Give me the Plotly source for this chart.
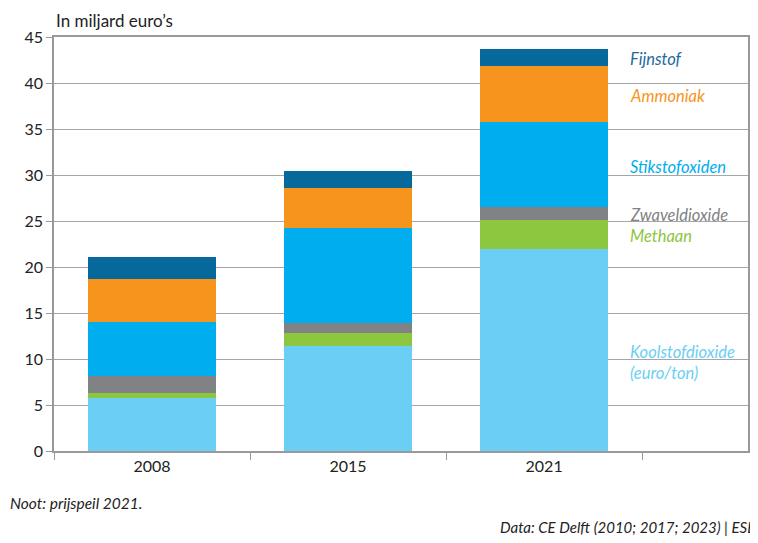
import plotly.graph_objects as go

years = ["2008", "2015", "2021"]
series_names = ["Koolstofdioxide", "Methaan", "Zwaveldioxide", "Stikstofoxiden", "Ammoniak", "Fijnstof"]
koolstofdioxide = [5.75, 11.4, 22.0]
methaan = [0.55, 1.4, 3.15]
zwaveldioxide = [1.8, 1.15, 1.35]
stikstofoxiden = [5.9, 10.3, 9.25]
ammoniak = [4.7, 4.3, 6.05]
fijnstof = [2.4, 1.9, 1.95]
label_texts = ["Koolstofdioxide<br>(euro/ton)", "Methaan", "Zwaveldioxide", "Stikstofoxiden", "Ammoniak", "Fijnstof"]

values = [koolstofdioxide, methaan, zwaveldioxide, stikstofoxiden, ammoniak, fijnstof]
colors = ["#6ACEF5", "#8DC63F", "#808285", "#00AEEF", "#F7941D", "#07699B"]
label_colors = ["#6ACEF5", "#8DC63F", "#808285", "#00AEEF", "#F7941D", "#1C6AA0"]

# page offset (browser body margin) compensation
OFF = 8
W, H = 758 - OFF, 543 - OFF
ml, mr, mt, mb = 54 - OFF, 10, 37 - OFF, 92
pw, ph = W - ml - mr, H - mt - mb


def px_to_paper(px, py):
    return (px - OFF - ml) / pw, 1 - (py - OFF - mt) / ph


fig = go.Figure()
for name, vals, col in zip(series_names, values, colors):
    fig.add_trace(go.Bar(x=years, y=vals, name=name, marker=dict(color=col, line=dict(width=0)),
                         width=0.65, hoverinfo="x+y+name"))

# labels next to the last bar, at segment midpoints (first line on the midpoint)
cum = 0
last = len(years) - 1
for txt, vals, col in zip(label_texts, values, label_colors):
    mid = cum + vals[last] / 2
    cum += vals[last]
    nlines = txt.count("<br>") + 1
    fig.add_annotation(x=last + 0.43, y=mid, xref="x", yref="y", text=txt, showarrow=False,
                       xanchor="left", yanchor="middle", align="left",
                       yshift=-(nlines - 1) * 11 - 2,
                       font=dict(family="Lato", size=16.5, color=col, style="italic"))

tx, ty = px_to_paper(54, 20)
fig.add_annotation(x=tx, y=ty, xref="paper", yref="paper", text="In miljard euro’s", showarrow=False,
                   xanchor="left", yanchor="middle", font=dict(family="Lato", size=17, color="#222"))
nx, ny = px_to_paper(8, 503)
fig.add_annotation(x=nx, y=ny, xref="paper", yref="paper", text="Noot: prijspeil 2021.", showarrow=False,
                   xanchor="left", yanchor="middle",
                   font=dict(family="Lato", size=15.5, color="#222", style="italic"))
dx, dy = px_to_paper(498, 527)
fig.add_annotation(x=dx, y=dy, xref="paper", yref="paper", text="Data: CE Delft (2010; 2017; 2023) | ESB",
                   showarrow=False, xanchor="left", yanchor="middle",
                   font=dict(family="Lato", size=15, color="#222", style="italic"))

fig.update_layout(
    width=W, height=H, barmode="stack", showlegend=False,
    margin=dict(l=ml, r=mr, t=mt, b=mb, autoexpand=False),
    plot_bgcolor="white", paper_bgcolor="white",
    font=dict(family="Lato", size=16, color="#222"),
    xaxis=dict(type="category", range=[-0.5, 3.04], tickson="boundaries", ticks="outside", ticklen=7,
               tickcolor="#999", showgrid=False, showline=True, linecolor="#999", linewidth=1.5,
               mirror=True, tickfont=dict(size=16, color="#222")),
    yaxis=dict(range=[0, 45], dtick=5, ticks="outside", ticklen=6, tickcolor="#999", showgrid=True,
               gridcolor="#a6a6a6", gridwidth=1.2, showline=True, linecolor="#999", linewidth=1.5,
               mirror=True, zeroline=False, tickfont=dict(size=16, color="#222")),
)

fig.write_html("out.html")
